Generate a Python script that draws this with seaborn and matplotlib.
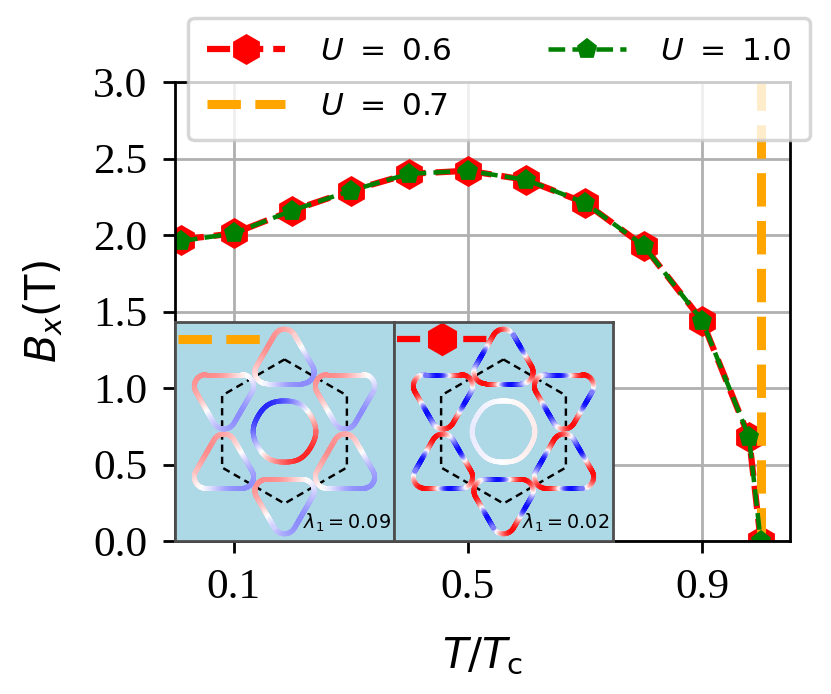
import numpy as np
import pandas as pd
import matplotlib
matplotlib.use("Agg")
import matplotlib.pyplot as plt
from matplotlib.collections import LineCollection
import seaborn as sns

# ---------------- data ----------------
T_u06 = [0.01, 0.1, 0.2, 0.3, 0.4, 0.5, 0.6, 0.7, 0.8, 0.9, 0.98, 1.0]
B_u06 = [1.97, 2.01, 2.16, 2.29, 2.40, 2.42, 2.36, 2.21, 1.93, 1.44, 0.68, 0.0]
T_u07 = [1.0, 1.0]
B_u07 = [0.0, 3.0]
T_u10 = [0.01, 0.1, 0.2, 0.3, 0.4, 0.5, 0.6, 0.7, 0.8, 0.9, 0.98, 1.0]
B_u10 = [1.96, 2.01, 2.16, 2.29, 2.40, 2.42, 2.36, 2.21, 1.93, 1.44, 0.68, 0.0]
labels = [r"$U\ =\ 0.6$", r"$U\ =\ 0.7$", r"$U\ =\ 1.0$"]
xticks = [0.1, 0.5, 0.9]
yticks = [0.0, 0.5, 1.0, 1.5, 2.0, 2.5, 3.0]

# inset (Fermi-surface sketches)
inset_lambda = ["0.09", "0.02"]
center_amp = [-0.85, 0.08]
center_phase = [135, 0]
pocket_amp = [0.45, 0.95]
pocket_harm = [1, 3]
pocket_rot = [0, 1]
pocket_phase = [135, 60]

df06 = pd.DataFrame({"T": T_u06, "B": B_u06})
df07 = pd.DataFrame({"T": T_u07, "B": B_u07})
df10 = pd.DataFrame({"T": T_u10, "B": B_u10})

W, H, DPI = 831, 694, 250
fig = plt.figure(figsize=(W / DPI, H / DPI), dpi=DPI)
L, R, Bt, Tp = 175 / W, 790 / W, 1 - 541 / H, 1 - 82 / H
ax = fig.add_axes([L, Bt, R - L, Tp - Bt])

common = dict(ax=ax, x="T", y="B", sort=False, estimator=None, errorbar=None)
sns.lineplot(data=df06, color="red", linestyle="--", lw=1.8,
             marker="h", markersize=8, mec="red", mew=0.8, label=labels[0], **common)
sns.lineplot(data=df07, color="orange", linestyle="--", lw=2.6,
             label=labels[1], **common)
sns.lineplot(data=df10, color="green", linestyle="--", lw=1.3,
             marker="p", markersize=5.5, mec="green", mew=0.5, label=labels[2], **common)

ax.set_xlim(0.0, 1.05)
ax.set_ylim(0.0, 3.0)
ax.set_xticks(xticks)
ax.set_yticks(yticks)
ax.set_xticklabels([f"{t:.1f}" for t in xticks])
ax.set_yticklabels([f"{t:.1f}" for t in yticks])
ax.tick_params(labelsize=12.5, pad=4.5)
for lab in ax.get_xticklabels() + ax.get_yticklabels():
    lab.set_fontfamily("Liberation Serif")
ax.grid(True, color="#b0b0b0", lw=0.8)
ax.set_xlabel(r"$T/T_\mathrm{c}$", fontsize=12, labelpad=8)
ax.set_ylabel(r"$B_x$(T)", fontsize=12, labelpad=8)
for s in ax.spines.values():
    s.set_color("black")
    s.set_linewidth(0.8)

ax.legend(loc="upper right", bbox_to_anchor=(810 / W, 1 - 18 / H),
          bbox_transform=fig.transFigure, borderaxespad=0, ncol=2, fontsize=9,
          handlelength=2.5, handletextpad=1.1, columnspacing=3.1, labelspacing=0.85,
          borderpad=0.6)


# ---------------- insets ----------------
def resample(xy, n=600):
    seg = np.sqrt((np.diff(xy, axis=0) ** 2).sum(axis=1))
    s = np.concatenate([[0], np.cumsum(seg)])
    t = np.linspace(0, s[-1], n)
    return np.column_stack([np.interp(t, s, xy[:, 0]), np.interp(t, s, xy[:, 1])])


def rounded_triangle(cx, cy, alpha, d, rho):
    parts = []
    for i in range(3):
        va = alpha + 2 * np.pi / 3 * i
        vx, vy = cx + d * np.cos(va), cy + d * np.sin(va)
        ang = np.linspace(va - np.pi / 3, va + np.pi / 3, 60)
        parts.append(np.column_stack([vx + rho * np.cos(ang), vy + rho * np.sin(ang)]))
    xy = np.vstack(parts + [parts[0][:1]])
    return resample(xy)


def colored(axi, xy, v):
    pts = xy.reshape(-1, 1, 2)
    segs = np.concatenate([pts[:-1], pts[1:]], axis=1)
    lc = LineCollection(segs, cmap="bwr", norm=plt.Normalize(-1, 1),
                        linewidths=1.4, capstyle="round")
    lc.set_array(0.5 * (v[:-1] + v[1:]))
    axi.add_collection(lc)


inset_w = 219 / W
inset_h = 219 / H
for k in range(2):
    axi = fig.add_axes([L + k * inset_w, Bt, inset_w, inset_h], facecolor="lightblue")
    axi.set_xlim(-1.52, 1.52)
    axi.set_ylim(-1.52, 1.52)
    axi.set_xticks([])
    axi.set_yticks([])
    for s in axi.spines.values():
        s.set_color("0.3")
        s.set_linewidth(0.8)
    # hexagon BZ
    ha = np.deg2rad(90 - 60 * np.arange(7))
    axi.plot(np.cos(ha), np.sin(ha), color="black", ls="--", lw=0.7, dashes=(3, 2))
    # centre pocket
    th = np.linspace(0, 2 * np.pi, 400)
    rc = 0.43 * (1 + 0.012 * np.cos(6 * th))
    vc = center_amp[k] * np.cos(th - np.deg2rad(center_phase[k]))
    colored(axi, np.column_stack([rc * np.cos(th), rc * np.sin(th)]), vc)
    # corner pockets
    for j in range(6):
        al = np.deg2rad(90 - 60 * j)
        cx, cy = 0.97 * np.cos(al), 0.97 * np.sin(al)
        xy = rounded_triangle(cx, cy, al, 0.29, 0.16)
        phi = np.arctan2(xy[:, 1] - cy, xy[:, 0] - cx)
        v = pocket_amp[k] * np.cos(pocket_harm[k] * (phi - pocket_rot[k] * al)
                                   - np.deg2rad(pocket_phase[k]))
        colored(axi, xy, v)
    axi.text(0.985, 0.03, r"$\lambda_1 = $" + inset_lambda[k], transform=axi.transAxes,
             ha="right", va="bottom", fontsize=5.5)
    if k == 0:
        axi.plot([0.015, 0.41], [0.924, 0.924], transform=axi.transAxes,
                 color="orange", ls="--", lw=2.6)
    else:
        axi.plot([0.015, 0.22, 0.43], [0.924, 0.924, 0.924], transform=axi.transAxes,
                 color="red", ls="--", lw=1.8, marker="h", markersize=8.5,
                 markevery=[1], mec="red")

fig.savefig("out.png", dpi=DPI)
